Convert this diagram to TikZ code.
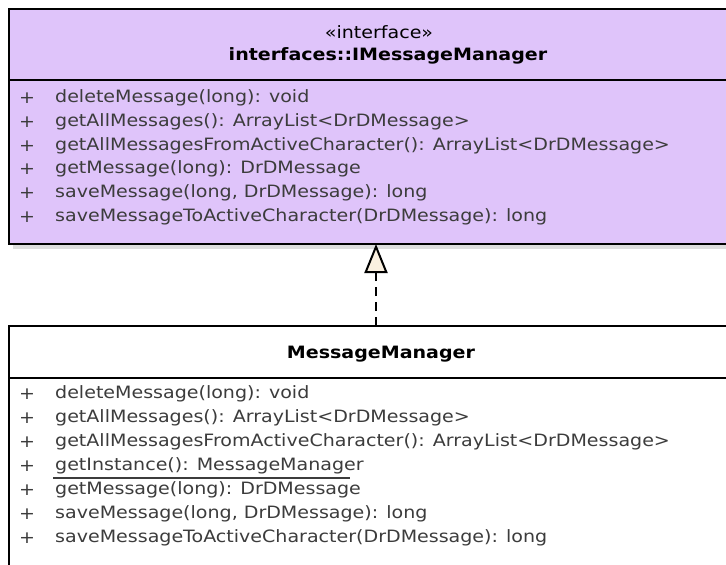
\documentclass[tikz,border=0pt]{standalone}
\usepackage{fontspec}
\setmainfont[FakeStretch=1.12]{DejaVu Sans}
\usetikzlibrary{arrows.meta}
\definecolor{ifacefill}{RGB}{223,196,250}
\definecolor{tipfill}{RGB}{250,240,224}
\definecolor{txt}{RGB}{60,60,60}
\definecolor{shadowc}{RGB}{221,221,221}
\tikzset{
  x=1pt,y=-1pt,
  box/.style={draw=black,line width=2pt},
  member/.style={anchor=west,inner sep=0pt,font=\fontsize{17}{19}\selectfont,text=txt},
  plus/.style={anchor=center,inner sep=0pt,font=\fontsize{17}{19}\selectfont,text=txt},
  headtxt/.style={anchor=center,inner sep=0pt,font=\fontsize{17}{19}\selectfont},
  realize/.style={line width=2pt,dash pattern=on 9pt off 6pt,-{Triangle[length=29pt,width=23pt,fill=tipfill,line width=2pt]}}
}
\begin{document}
\begin{tikzpicture}
\useasboundingbox (0,0) rectangle (726,565);
\fill[white] (0,0) rectangle (726,565);
% interface box
\fill[shadowc] (13,13) rectangle (740,249);
\fill[ifacefill] (9,9) rectangle (740,244);
\draw[box] (740,9) -- (9,9) -- (9,244) -- (740,244);
\draw[box] (9,80) -- (740,80);
\node[headtxt] (istereo) at (379,32) {«interface»};
\node[headtxt,font=\fontsize{17}{19}\selectfont\bfseries] (iname) at (388,56) {interfaces::IMessageManager};
\foreach \y/\t [count=\i] in {98/{deleteMessage(long): void},
  122/{getAllMessages(): ArrayList<DrDMessage>},
  146/{getAllMessagesFromActiveCharacter(): ArrayList<DrDMessage>},
  169/{getMessage(long): DrDMessage},
  193/{saveMessage(long, DrDMessage): long},
  217/{saveMessageToActiveCharacter(DrDMessage): long}}{
  \node[plus] (ip\i) at (27,\y) {+};
  \node[member] (im\i) at (55,\y) {\t};
}
\coordinate (ifacebottom) at (376,244);
% class box
\fill[white] (9,326) rectangle (740,570);
\draw[box] (740,326) -- (9,326) -- (9,570);
\draw[box] (9,378) -- (740,378);
\node[headtxt,font=\fontsize{17}{19}\selectfont\bfseries] (cname) at (381,354) {MessageManager};
\foreach \y/\t [count=\i] in {394/{deleteMessage(long): void},
  418/{getAllMessages(): ArrayList<DrDMessage>},
  442/{getAllMessagesFromActiveCharacter(): ArrayList<DrDMessage>},
  490/{getMessage(long): DrDMessage},
  514/{saveMessage(long, DrDMessage): long},
  538/{saveMessageToActiveCharacter(DrDMessage): long}}{
  \node[plus] (cp\i) at (27,\y) {+};
  \node[member] (cm\i) at (55,\y) {\t};
}
\node[plus] (cpstatic) at (27,466) {+};
\node[member] (cmstatic) at (55,466) {getInstance(): MessageManager};
\draw[txt,line width=1.2pt] (53,478) -- (350,478);
\coordinate (classtop) at (376,326);
% realization
\draw[realize] (classtop) -- (ifacebottom);
\end{tikzpicture}
\end{document}
